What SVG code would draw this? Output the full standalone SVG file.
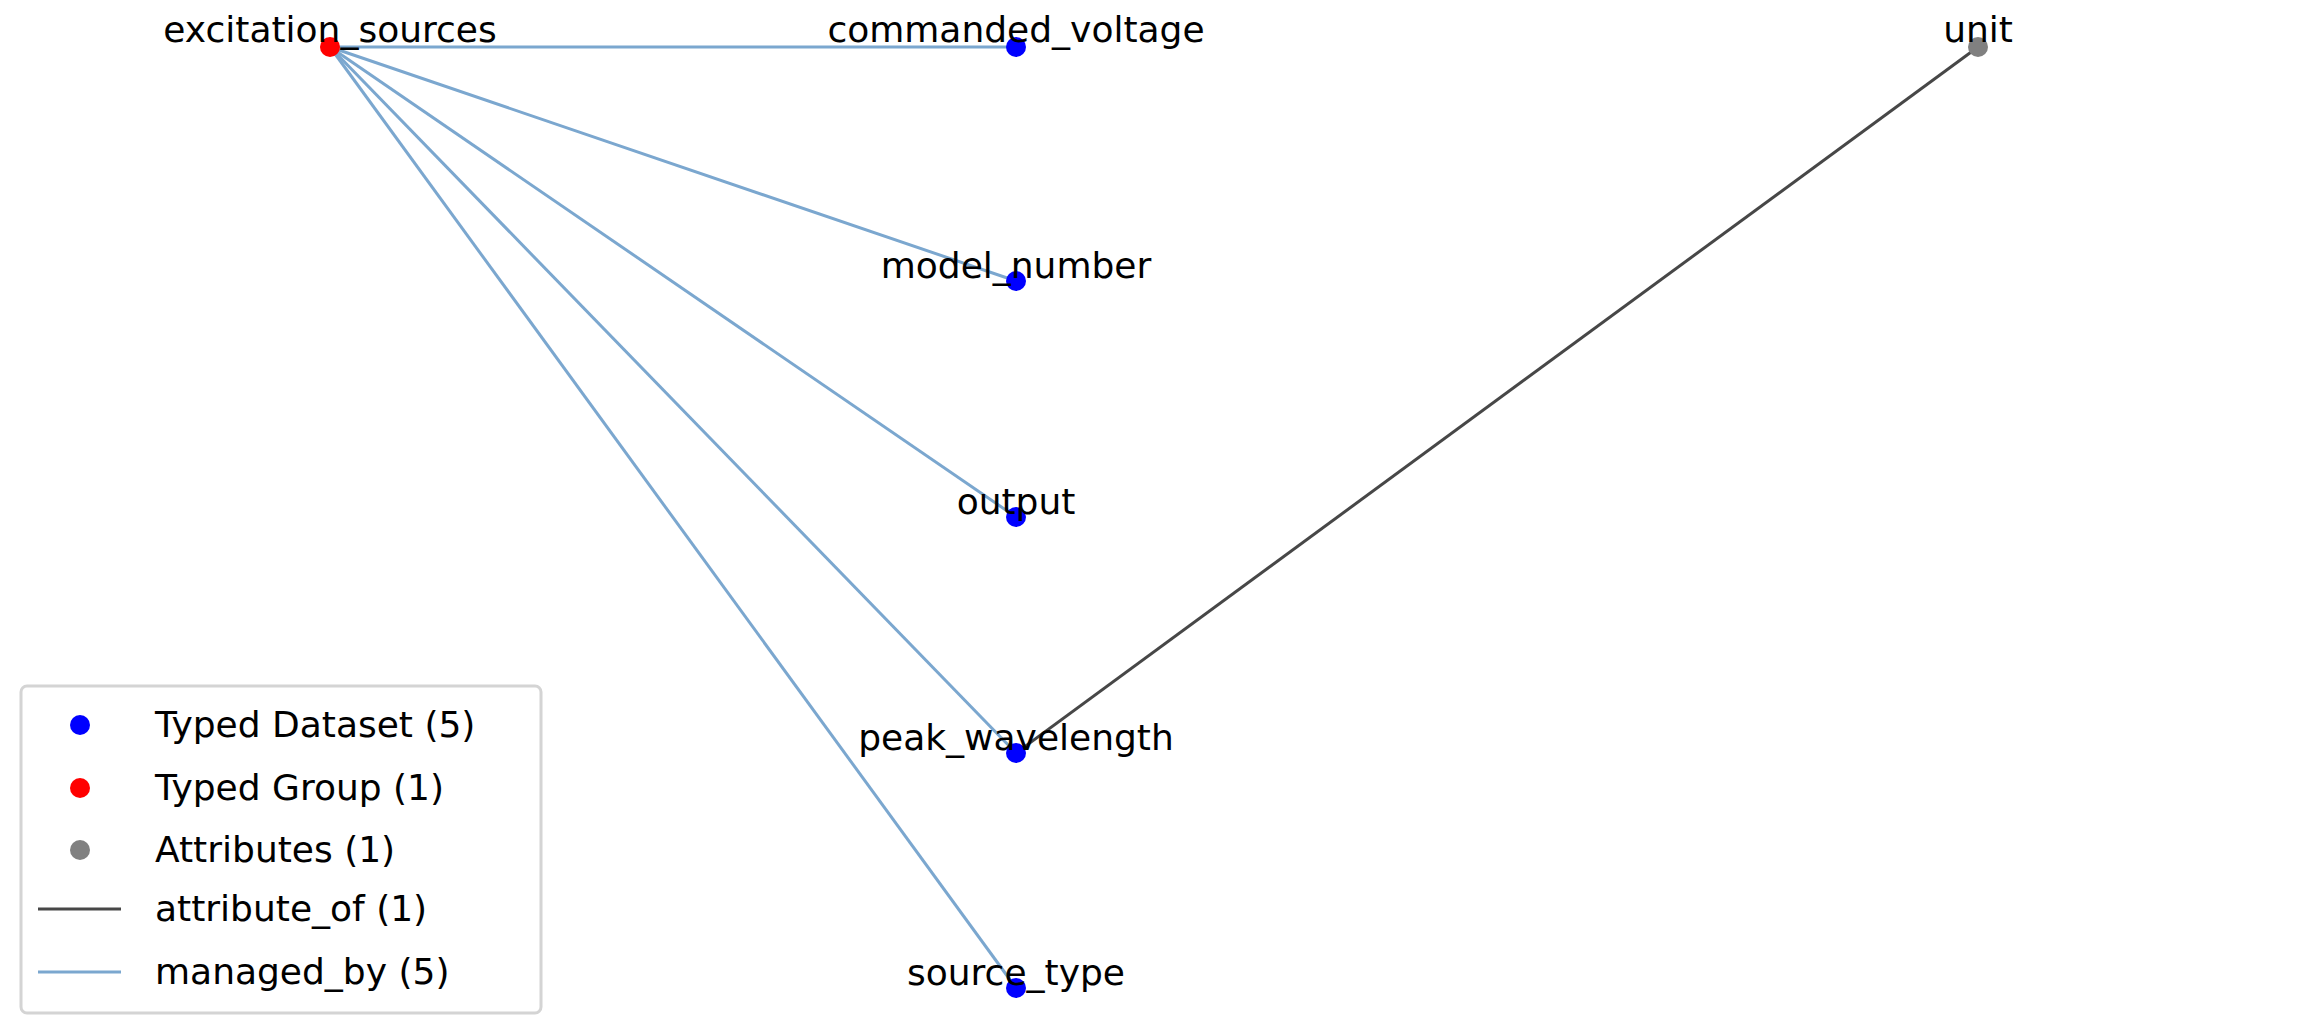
<svg xmlns="http://www.w3.org/2000/svg" width="2310" height="1035" viewBox="0 0 2310 1035">
<style>
text{font-family:"DejaVu Sans",sans-serif;font-size:36px;fill:#000}
.lbl{text-anchor:middle}
.mb{stroke:#7ba7cf;stroke-width:3;fill:none}
.at{stroke:#474747;stroke-width:3;fill:none}
.ds{fill:#0000ff}.gr{fill:#ff0000}.atn{fill:#808080}
</style>
<rect width="2310" height="1035" fill="#fff"/>
<g id="connectors">
<line class="mb" x1="330" y1="47" x2="1016" y2="47"/>
<line class="mb" x1="330" y1="47" x2="1016" y2="281"/>
<line class="mb" x1="330" y1="47" x2="1016" y2="517"/>
<line class="mb" x1="330" y1="47" x2="1016" y2="753"/>
<line class="mb" x1="330" y1="47" x2="1016" y2="988"/>
<line class="at" x1="1016" y1="753" x2="1978" y2="47"/>
</g>
<g id="excitation_sources"><circle class="gr" cx="330" cy="47" r="10"/><text class="lbl" x="330" y="42">excitation_sources</text></g>
<g id="commanded_voltage"><circle class="ds" cx="1016" cy="47" r="10"/><text class="lbl" x="1016" y="42">commanded_voltage</text></g>
<g id="model_number"><circle class="ds" cx="1016" cy="281" r="10"/><text class="lbl" x="1016" y="278">model_number</text></g>
<g id="output"><circle class="ds" cx="1016" cy="517" r="10"/><text class="lbl" x="1016" y="514">output</text></g>
<g id="peak_wavelength"><circle class="ds" cx="1016" cy="753" r="10"/><text class="lbl" x="1016" y="750">peak_wavelength</text></g>
<g id="source_type"><circle class="ds" cx="1016" cy="988" r="10"/><text class="lbl" x="1016" y="985">source_type</text></g>
<g id="unit"><circle class="atn" cx="1978" cy="47" r="10"/><text class="lbl" x="1978" y="42">unit</text></g>
<g id="legend">
<rect x="21" y="686" width="520" height="327" rx="6" fill="#fff" stroke="#d4d4d4" stroke-width="3"/>
<circle class="ds" cx="80" cy="725" r="10"/><text x="155" y="737">Typed Dataset (5)</text>
<circle class="gr" cx="80" cy="788" r="10"/><text x="155" y="800">Typed Group (1)</text>
<circle class="atn" cx="80" cy="850" r="10"/><text x="155" y="862">Attributes (1)</text>
<line class="at" x1="38" y1="909" x2="121" y2="909"/><text x="155" y="921">attribute_of (1)</text>
<line class="mb" x1="38" y1="972" x2="121" y2="972"/><text x="155" y="984">managed_by (5)</text>
</g>
</svg>
